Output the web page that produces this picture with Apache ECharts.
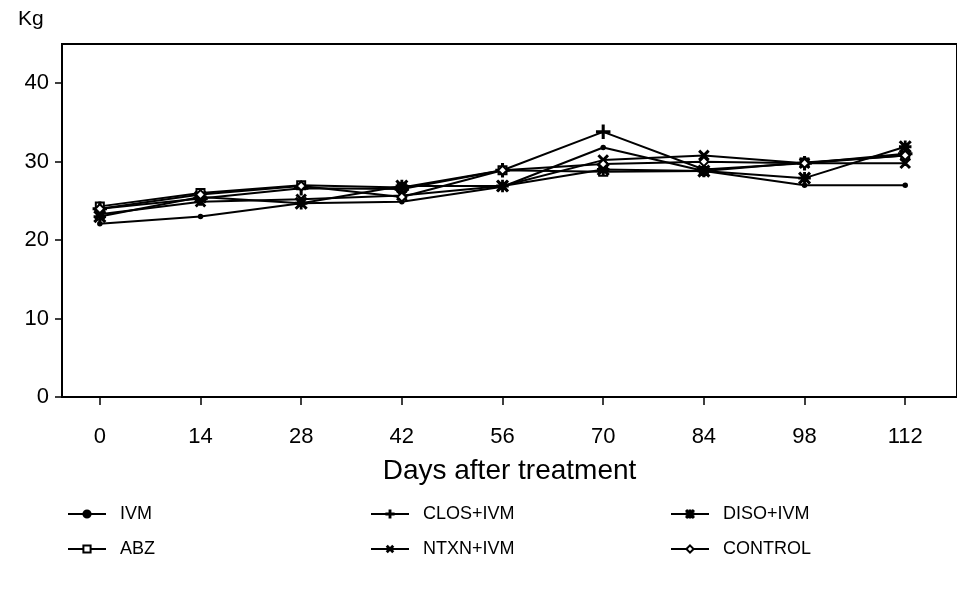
<!DOCTYPE html>
<html>
<head>
<meta charset="utf-8">
<script src="https://cdn.jsdelivr.net/npm/echarts@6/dist/echarts.min.js"></script>
<style>
  html, body { margin: 0; padding: 0; background: #fff; }
  #chart { width: 957px; height: 593px; }
</style>
</head>
<body>
<div id="chart"></div>
<script>
// days after treatment
const days = [0, 14, 28, 42, 56, 70, 84, 98, 112]
const yTicks = [0, 10, 20, 30, 40]

// body weight, kg
const ivm = [22.1, 23.0, 24.7, 24.9, 26.8, 31.8, 28.8, 27.0, 27.0]
const abz = [24.3, 26.0, 27.0, 26.7, 28.9, 28.7, 28.8, 29.9, 30.8]
const closIvm = [24.0, 25.3, 26.6, 26.5, 28.9, 33.8, 29.0, 29.8, 31.0]
const ntxnIvm = [23.3, 24.9, 25.2, 25.7, 26.9, 30.2, 30.8, 29.8, 29.8]
const disoIvm = [23.0, 25.5, 24.7, 26.9, 26.9, 29.0, 28.8, 27.9, 31.9]
const control = [24.0, 25.8, 26.9, 25.5, 28.9, 29.7, 30.0, 29.8, 30.8]

// marker shapes
const plusPath = 'path://M4.4,0h1.2v4.4h4.4v1.2h-4.4v4.4h-1.2v-4.4h-4.4v-1.2h4.4z'
const starPath = 'path://M4.4,0h1.2v4.4h4.4v1.2h-4.4v4.4h-1.2v-4.4h-4.4v-1.2h4.4z' +
  'M1,0L10,9L9,10L0,1z M9,0L10,1L1,10L0,9z'

const font = 'Liberation Sans, Arial, sans-serif'

const makeSeries = (name, values, symbol, size, rotate) => ({
  name: name,
  type: 'line',
  data: days.map((d, i) => [d, values[i]]),
  symbol: symbol,
  symbolSize: size,
  symbolRotate: rotate || 0,
  lineStyle: { color: '#000', width: 2 },
  itemStyle: { color: '#000', borderColor: '#000', borderWidth: 1.5 },
  emphasis: { disabled: true },
  z: 3
})

const legendBase = {
  orient: 'vertical',
  top: 500,
  itemWidth: 38,
  itemHeight: 9,
  itemGap: 17,
  textStyle: { fontFamily: font, fontSize: 18, color: '#000', padding: [0, 0, 0, 9] },
  inactiveColor: '#000'
}

const chart = echarts.init(document.getElementById('chart'))

const option = {
  animation: false,
  backgroundColor: '#fff',
  title: {
    text: 'Kg',
    left: 13,
    top: 4,
    textStyle: { fontFamily: font, fontSize: 21, fontWeight: 'normal', color: '#000' }
  },
  legend: [
    Object.assign({}, legendBase, { left: 62, data: ['IVM', 'ABZ'] }),
    Object.assign({}, legendBase, { left: 365, data: ['CLOS+IVM', 'NTXN+IVM'] }),
    Object.assign({}, legendBase, { left: 665, data: ['DISO+IVM', 'CONTROL'] })
  ],
  grid: {
    left: 62,
    top: 44,
    right: -5,
    bottom: 196,
    show: true,
    borderColor: '#000',
    borderWidth: 2
  },
  xAxis: {
    type: 'value',
    min: -5.26,
    max: 119.2,
    name: 'Days after treatment',
    nameLocation: 'middle',
    nameGap: 60,
    nameTextStyle: { fontFamily: font, fontSize: 28, color: '#000', verticalAlign: 'top' },
    axisLine: { onZero: false, lineStyle: { color: '#000', width: 2 } },
    axisTick: { show: true, length: 8, lineStyle: { color: '#000', width: 1.5 }, customValues: days },
    axisLabel: { margin: 29, fontFamily: font, fontSize: 22, color: '#000', customValues: days },
    splitLine: { show: false }
  },
  yAxis: {
    type: 'value',
    min: 0,
    max: 45,
    axisLine: { show: true, onZero: false, lineStyle: { color: '#000', width: 2 } },
    axisTick: { show: true, length: 7, lineStyle: { color: '#000', width: 1.5 }, customValues: yTicks },
    axisLabel: { margin: 13, fontFamily: font, fontSize: 22, color: '#000', customValues: yTicks },
    splitLine: { show: false }
  },
  series: [
    makeSeries('IVM', ivm, 'circle', 4),
    makeSeries('ABZ', abz, 'emptyRect', 8),
    makeSeries('CLOS+IVM', closIvm, plusPath, 13),
    makeSeries('NTXN+IVM', ntxnIvm, plusPath, 12, 45),
    makeSeries('DISO+IVM', disoIvm, starPath, 11),
    makeSeries('CONTROL', control, 'emptyDiamond', 9)
  ]
}

chart.setOption(option)
</script>
</body>
</html>
